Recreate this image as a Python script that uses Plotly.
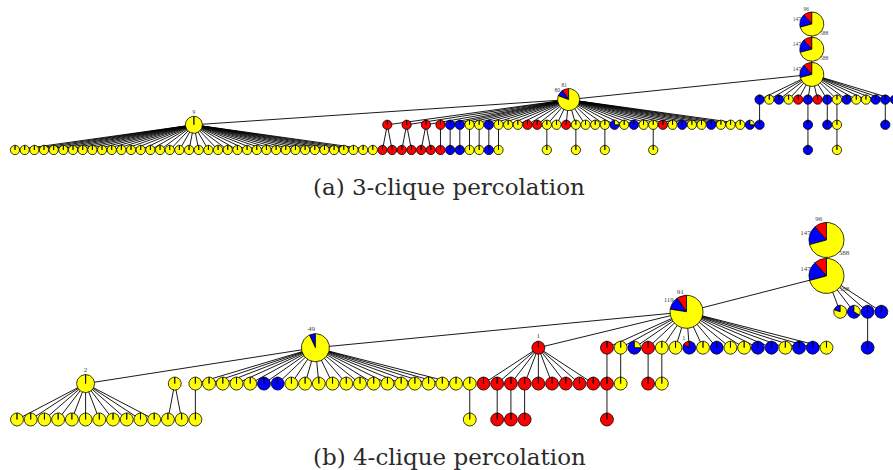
import math
import plotly.graph_objects as go

# Member classes drawn as pie slices: red, blue, yellow
CLASS_COLOURS = ["#ff0000", "#0000ff", "#ffff00"]
PURE = {"R": (1, 0, 0), "B": (0, 1, 0), "Y": (0, 0, 1)}

# ----------------------------------------------------------- (a) 3-clique data
# Large communities: member counts (red, blue, yellow) and their count labels
A_HUB_NAMES = ["a1", "a2", "a3", "a81", "a9"]
A_HUB_PARENTS = [None, "a1", "a2", "a3", "a81"]
A_HUB_COUNTS = [(96, 147, 588), (96, 147, 588), (96, 147, 588), (81, 80, 672), (0, 0, 9)]
A_HUB_LABELS = [("96", "147", "588"), ("", "147", "588"), ("", "147", ""),
                ("81", "80", ""), ("", "", "9")]

# Small communities hanging from a parent, one colour code per community
# (R/B/Y = single class, M = mixed, counts in A_MIXED_COUNTS in order)
A_ROW_PARENTS = ["a9", "a81", "a3"]
A_ROW_COLOURS = ["Y" * 38,
                 "RRR" + "RBBYYBYYYRRYYRYYYY" + "M" + "YBYYRYBYYBYYY" + "M",
                 "BYBYRBRBYBYYBBB"]
A_MIXED_COUNTS = [(0, 3, 1), (0, 3, 1)]
A_MIXED_LABELS = [("", "", ""), ("", "", "")]
# Descendants of small communities: (row of the parent, index in that row, colours)
A_SUB_ROWS = [(1, 0, "RR"), (1, 1, "RR"), (1, 2, "RR"), (1, 3, "R"), (1, 4, "B"),
              (1, 5, "B"), (1, 6, "Y"), (1, 7, "Y"), (1, 8, "B"), (1, 9, "Y"),
              (1, 14, "Y"), (1, 17, "Y"), (1, 20, "Y"), (1, 25, "Y"),
              (2, 0, "B"), (2, 5, "B"), (2, 7, "B"), (2, 8, "Y"), (2, 13, "B"),
              (18, 0, "B"), (20, 0, "Y")]

# ----------------------------------------------------------- (b) 4-clique data
B_HUB_NAMES = ["b1", "b2", "b91", "b49", "bR", "b2h"]
B_HUB_PARENTS = [None, "b1", "b2", "b91", "b91", "b49"]
B_HUB_COUNTS = [(96, 147, 588), (96, 147, 588), (91, 119, 726), (0, 49, 656),
                (1, 0, 0), (0, 0, 2)]
B_HUB_LABELS = [("96", "147", "588"), ("", "147", "588"), ("91", "119", ""),
                ("", "49", ""), ("1", "", ""), ("", "", "2")]

B_ROW_PARENTS = ["b2h", "b49", "bR", "b91", "b2", None, None]
B_ROW_COLOURS = ["Y" * 11,
                 "YYYYYBB" + "Y" * 13,
                 "R" * 9,
                 "RYMRYYMYBYYBBYBBY",
                 "MMBB",
                 "Y",
                 "Y"]
B_MIXED_COUNTS = [(0, 3, 1), (1, 5, 0), (0, 1, 4), (0, 2, 1)]
B_MIXED_LABELS = [("", "", ""), ("1", "", ""), ("", "", ""), ("", "", "")]
B_SUB_ROWS = [(5, 0, "YY"), (6, 0, "Y"), (1, 0, "Y"), (2, 1, "R"), (2, 2, "R"),
              (2, 3, "R"), (3, 0, "R"), (3, 1, "Y"), (3, 3, "R"), (3, 4, "Y"),
              (13, 0, "R"), (4, 2, "B")]

CAPTIONS = ["(a) 3-clique percolation", "(b) 4-clique percolation"]

# ------------------------------------------------------------------ layout
A_LAYOUT = dict(x0=15.0, dx=9.67, y0=24.0, dy=25.2, leaf_r=4.7, label_size=5.5, gap=3.5,
                hub_level=[0, 1, 2, 3, 4], hub_slot=[82.4, 82.4, 82.4, 57.25, 18.5],
                hub_radius=[12, 12, 12, 11, 8.5],
                row_level=[5, 4, 3],
                row_slots=[list(range(38)), [38.5, 40.5, 42.5] + list(range(44, 77)),
                           list(range(77, 92))])
B_LAYOUT = dict(x0=17.0, dx=13.72, y0=240.0, dy=35.9, leaf_r=6.5, label_size=7, gap=4.5,
                hub_level=[0, 1, 2, 3, 3, 4], hub_slot=[59, 59, 48.8, 21.75, 38, 5],
                hub_radius=[17.5, 17.5, 16.5, 14, 6.5, 9],
                row_level=[5, 4, 4, 3, 2, 4, 4],
                row_slots=[list(range(11)), list(range(13, 33)), list(range(34, 43)),
                           list(range(43, 60)), list(range(60, 64)), [11.5], [33]])


def build_nodes(hub_names, hub_parents, hub_counts, hub_labels, row_parents, row_colours,
                mixed_counts, mixed_labels, sub_rows, lay):
    nodes = {}
    order = []
    for i, name in enumerate(hub_names):
        nodes[name] = dict(slot=lay["hub_slot"][i], level=lay["hub_level"][i],
                           r=lay["hub_radius"][i], counts=hub_counts[i],
                           labels=hub_labels[i], parent=hub_parents[i])
        order.append(name)
    mixed = iter(zip(mixed_counts, mixed_labels))
    rows = []

    def add_row(parent, colours, level, slots):
        ids = []
        for j, code in enumerate(colours):
            if code == "M":
                counts, labels = next(mixed)
            else:
                counts, labels = PURE[code], ("", "", "")
            nid = "r%d_%d" % (len(rows), j)
            nodes[nid] = dict(slot=slots[j], level=level, r=lay["leaf_r"],
                              counts=counts, labels=labels, parent=parent)
            order.append(nid)
            ids.append(nid)
        rows.append(ids)

    for k, (parent, colours) in enumerate(zip(row_parents, row_colours)):
        add_row(parent, colours, lay["row_level"][k], lay["row_slots"][k])
    for prow, pidx, colours in sub_rows:
        pid = rows[prow][pidx]
        pn = nodes[pid]
        n = len(colours)
        slots = [pn["slot"] - (n - 1) / 2 + j for j in range(n)]
        add_row(pid, colours, pn["level"] + 1, slots)

    for nid in order:
        nd = nodes[nid]
        nd["x"] = lay["x0"] + lay["dx"] * nd["slot"]
        nd["y"] = lay["y0"] + lay["dy"] * nd["level"]
    return nodes, order


panels = [
    (build_nodes(A_HUB_NAMES, A_HUB_PARENTS, A_HUB_COUNTS, A_HUB_LABELS, A_ROW_PARENTS,
                 A_ROW_COLOURS, A_MIXED_COUNTS, A_MIXED_LABELS, A_SUB_ROWS, A_LAYOUT), A_LAYOUT),
    (build_nodes(B_HUB_NAMES, B_HUB_PARENTS, B_HUB_COUNTS, B_HUB_LABELS, B_ROW_PARENTS,
                 B_ROW_COLOURS, B_MIXED_COUNTS, B_MIXED_LABELS, B_SUB_ROWS, B_LAYOUT), B_LAYOUT),
]

fig = go.Figure()

# tree edges, centre to centre, underneath the pies
ex, ey = [], []
for (nodes, order), lay in panels:
    for nid in order:
        nd = nodes[nid]
        if nd["parent"] is None:
            continue
        pn = nodes[nd["parent"]]
        ex += [pn["x"], nd["x"], None]
        ey += [pn["y"], nd["y"], None]
fig.add_trace(go.Scatter(x=ex, y=ey, mode="lines", line=dict(color="black", width=0.9),
                         hoverinfo="skip", showlegend=False))

# pie slices, one filled trace per member class
sx = [[], [], []]
sy = [[], [], []]
labels = []  # (x, y, text, size)
for (nodes, order), lay in panels:
    for nid in order:
        nd = nodes[nid]
        cx, cy, r = nd["x"], nd["y"], nd["r"]
        total = float(sum(nd["counts"]))
        start = 90.0
        for k, v in enumerate(nd["counts"]):
            if v <= 0:
                continue
            sweep = 360.0 * v / total
            steps = max(4, int(sweep / 5))
            xs, ys = [cx], [cy]
            for t in range(steps + 1):
                a = math.radians(start + sweep * t / steps)
                xs.append(cx + r * math.cos(a))
                ys.append(cy - r * math.sin(a))
            xs.append(cx)
            ys.append(cy)
            sx[k] += xs + [None]
            sy[k] += ys + [None]
            text = nd["labels"][k]
            if text:
                mid = 90.0 if sweep > 359.0 else start + sweep / 2
                d = r + lay["gap"]
                labels.append((cx + d * math.cos(math.radians(mid)),
                               cy - d * math.sin(math.radians(mid)), text, lay["label_size"]))
            start += sweep

for k in range(3):
    fig.add_trace(go.Scatter(x=sx[k], y=sy[k], mode="lines", fill="toself",
                             fillcolor=CLASS_COLOURS[k], line=dict(color="black", width=0.8),
                             hoverinfo="skip", showlegend=False))

for size in sorted(set(l[3] for l in labels)):
    sel = [l for l in labels if l[3] == size]
    fig.add_trace(go.Scatter(x=[l[0] for l in sel], y=[l[1] for l in sel],
                             text=[l[2] for l in sel], mode="text",
                             textfont=dict(family="Liberation Serif", size=size, color="#444"),
                             hoverinfo="skip", showlegend=False))

for text, y in zip(CAPTIONS, [187, 457]):
    fig.add_annotation(x=449, y=y, xref="x", yref="y", text=text, showarrow=False,
                       font=dict(family="DejaVu Serif", size=23, color="#2a2a2a"))

fig.update_layout(width=893, height=470, margin=dict(l=0, r=0, t=0, b=0),
                  paper_bgcolor="white", plot_bgcolor="white",
                  xaxis=dict(range=[0, 893], visible=False, fixedrange=True),
                  yaxis=dict(range=[470, 0], visible=False, fixedrange=True))

fig.write_html("out.html", config={"displayModeBar": False})
